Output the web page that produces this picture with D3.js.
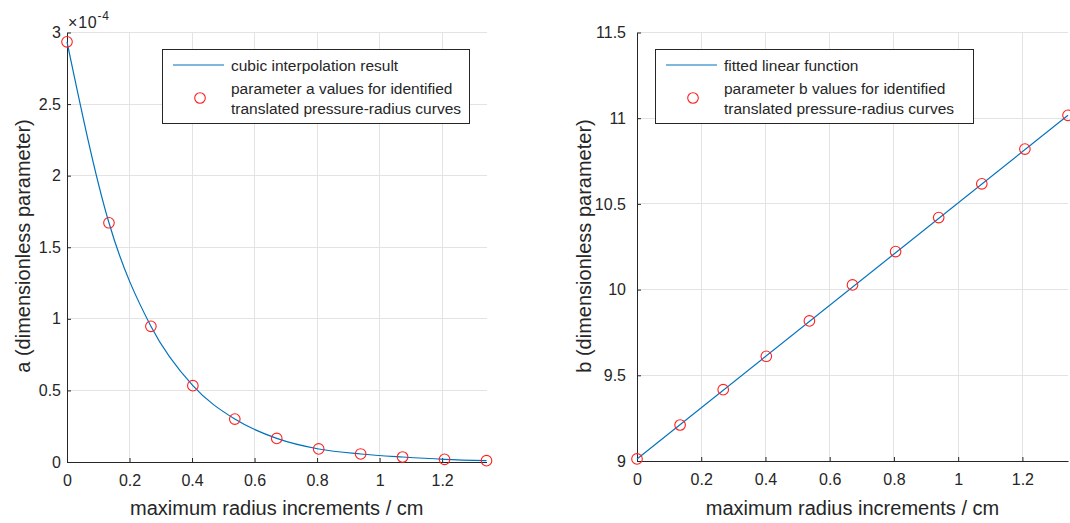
<!DOCTYPE html>
<html>
<head>
<meta charset="utf-8">
<script src="https://cdn.jsdelivr.net/npm/d3@7/dist/d3.min.js"></script>
<style>
  html, body { margin: 0; padding: 0; background: #fff; }
  svg { display: block; font-family: "Liberation Sans", Arial, Helvetica, sans-serif; }
</style>
</head>
<body>
<svg id="chart" width="1070" height="523"></svg>
<script>
// Maximum radius increments (cm) shared by both panels
const radiusIncrements = [0, 0.1342, 0.2684, 0.4026, 0.5368, 0.671, 0.8052, 0.9394, 1.0736, 1.2078, 1.342];

// Parameter a identified for each translated pressure-radius curve
const paramA = [2.935e-4, 1.671e-4, 0.948e-4, 0.533e-4, 0.300e-4, 0.165e-4, 0.091e-4, 0.056e-4, 0.035e-4, 0.019e-4, 0.009e-4];

// Parameter b identified for each translated pressure-radius curve
const paramB = [9.012, 9.21, 9.416, 9.611, 9.817, 10.027, 10.222, 10.42, 10.617, 10.82, 11.017];

// Fitted linear function for b (endpoints of the fit over the x-range)
const fitX = [0, 1.342];
const fitB = [9.012, 11.017];

// Tick values
const xTicks = [0, 0.2, 0.4, 0.6, 0.8, 1, 1.2];
const aTicks = [0, 0.5e-4, 1e-4, 1.5e-4, 2e-4, 2.5e-4, 3e-4];
const bTicks = [9, 9.5, 10, 10.5, 11, 11.5];

const legendA = ["cubic interpolation result", "parameter a values for identified", "translated pressure-radius curves"];
const legendB = ["fitted linear function", "parameter b values for identified", "translated pressure-radius curves"];

const LINE = "#0072BD", MARK = "#FF2020", AX = "#262626", GRID = "#e3e3e3";

const svg = d3.select("#chart");

function panel(cfg) {
  const g = svg.append("g");
  const x = d3.scaleLinear().domain([0, 1.342]).range(cfg.xRange);
  const y = d3.scaleLinear().domain(cfg.yDomain).range(cfg.yRange);

  // grid
  g.append("g").selectAll("line.vg").data(xTicks).join("line")
    .attr("x1", d => x(d)).attr("x2", d => x(d))
    .attr("y1", cfg.yRange[0]).attr("y2", cfg.yRange[1])
    .attr("stroke", GRID).attr("stroke-width", 1).attr("shape-rendering", "crispEdges");
  g.append("g").selectAll("line.hg").data(cfg.yTicks).join("line")
    .attr("x1", cfg.xRange[0]).attr("x2", cfg.xRange[1])
    .attr("y1", d => y(d)).attr("y2", d => y(d))
    .attr("stroke", GRID).attr("stroke-width", 1).attr("shape-rendering", "crispEdges");

  // axes with inward ticks
  const xAxis = d3.axisBottom(x).tickValues(xTicks).tickSizeInner(-4).tickSizeOuter(0)
    .tickPadding(13).tickFormat(d3.format("~g"));
  const gx = g.append("g").attr("transform", `translate(0,${cfg.yRange[0]})`).call(xAxis);
  const yAxis = d3.axisLeft(y).tickValues(cfg.yTicks).tickSizeInner(-4).tickSizeOuter(0)
    .tickPadding(cfg.yPad).tickFormat(cfg.yFormat);
  const gy = g.append("g").attr("transform", `translate(${cfg.xRange[0]},0)`).call(yAxis);
  [gx, gy].forEach(a => {
    a.select(".domain").attr("stroke", AX).attr("stroke-width", 1);
    a.selectAll(".tick line").attr("stroke", AX);
    a.selectAll(".tick text").attr("fill", AX).style("font-size", "16px")
      .attr("font-family", "'Liberation Sans', Arial, sans-serif");
  });

  // axis labels
  g.append("text").attr("x", (cfg.xRange[0] + cfg.xRange[1]) / 2).attr("y", 515)
    .attr("text-anchor", "middle").attr("fill", AX).style("font-size", "20px")
    .text("maximum radius increments / cm");
  g.append("text")
    .attr("transform", `translate(${cfg.yLabelX},${cfg.yLabelY}) rotate(-90)`)
    .attr("text-anchor", "middle").attr("fill", AX).style("font-size", "20px")
    .text(cfg.yLabel);

  // series line
  const line = d3.line().x(d => x(d[0])).y(d => y(d[1])).curve(cfg.curve);
  g.append("path").datum(d3.zip(cfg.lineX, cfg.lineY))
    .attr("d", line).attr("fill", "none").attr("stroke", LINE).attr("stroke-width", 1.2);

  // markers
  g.append("g").selectAll("circle").data(d3.zip(radiusIncrements, cfg.points)).join("circle")
    .attr("cx", d => x(d[0])).attr("cy", d => y(d[1])).attr("r", 5.3)
    .attr("fill", "none").attr("stroke", MARK).attr("stroke-width", 1.1);

  // legend
  const L = cfg.legend;
  g.append("rect").attr("x", L.x + 0.5).attr("y", 49.5).attr("width", L.w).attr("height", 74)
    .attr("fill", "#fff").attr("stroke", AX).attr("stroke-width", 1);
  g.append("line").attr("x1", L.x + 11).attr("x2", L.x + 62).attr("y1", 65).attr("y2", 65)
    .attr("stroke", LINE).attr("stroke-width", 1.2);
  g.append("circle").attr("cx", L.x + 38).attr("cy", 98).attr("r", 5.3)
    .attr("fill", "none").attr("stroke", MARK).attr("stroke-width", 1.1);
  g.append("g").selectAll("text").data(cfg.legendText).join("text")
    .attr("x", L.x + 69).attr("y", (d, i) => [71, 93.5, 114][i])
    .attr("fill", AX).style("font-size", "15.5px").text(d => d);

  return { g, x, y };
}

// left panel: parameter a
const left = panel({
  xRange: [67, 486.5], yDomain: [0, 3e-4], yRange: [462, 32.5], yTicks: aTicks,
  yFormat: d => d3.format("~g")(+(d / 1e-4).toFixed(2)), yPad: 6,
  yLabel: "a (dimensionless parameter)", yLabelX: 30, yLabelY: 246,
  lineX: radiusIncrements, lineY: paramA, points: paramA, curve: d3.curveMonotoneX,
  legend: { x: 162, w: 307 }, legendText: legendA
});

// exponent marker above the a-axis
const expo = left.g.append("text").attr("x", 68).attr("y", 28).attr("fill", AX)
  .style("font-size", "16px").style("letter-spacing", "0.8px");
expo.append("tspan").text("\u00d710");
expo.append("tspan").attr("dy", -8).style("font-size", "12px").text("-4");

// right panel: parameter b
panel({
  xRange: [637, 1068], yDomain: [9, 11.5], yRange: [461, 32.5], yTicks: bTicks,
  yFormat: d3.format("~g"), yPad: 11,
  yLabel: "b (dimensionless parameter)", yLabelX: 591, yLabelY: 246,
  lineX: fitX, lineY: fitB, points: paramB, curve: d3.curveLinear,
  legend: { x: 655, w: 318 }, legendText: legendB
});
</script>
</body>
</html>
